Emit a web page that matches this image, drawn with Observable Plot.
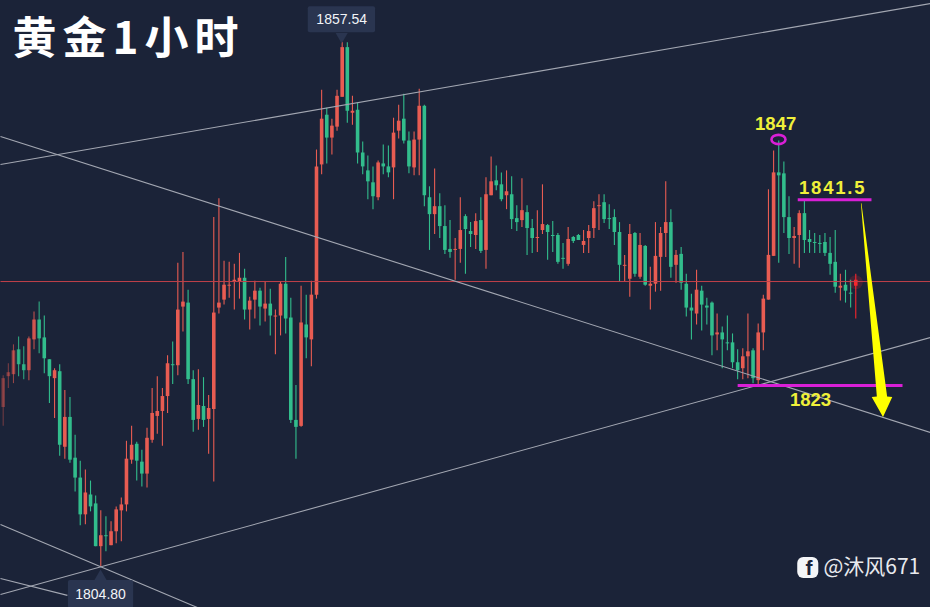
<!DOCTYPE html>
<html>
<head>
<meta charset="utf-8">
<script src="https://cdn.jsdelivr.net/npm/d3@7"></script>
<script src="https://cdn.jsdelivr.net/npm/@observablehq/plot@0.6"></script>
<style>
html,body{margin:0;padding:0;background:#1b2338;overflow:hidden}
svg{display:block}
</style>
</head>
<body>
<div id="chart"></div>
<script>
const highs = [
1824.0,1825.2,1827.1,1827.9,1826.9,1827.9,1830.4,1831.4,1830.0,1825.6,
1824.7,1825.1,1822.5,1821.8,1818.0,1815.4,1814.5,1813.4,1811.9,1810.4,
1809.8,1809.3,1810.8,1811.7,1817.4,1818.9,1817.3,1816.5,1818.7,1822.7,
1823.9,1822.7,1826.0,1827.4,1835.3,1836.4,1832.6,1824.5,1824.6,1823.8,
1822.0,1839.9,1841.8,1835.5,1835.4,1835.2,1836.3,1834.7,1831.9,1833.5,
1832.8,1833.4,1832.7,1830.6,1833.4,1835.9,1831.8,1823.0,1833.0,1832.1,
1833.5,1846.7,1852.7,1850.9,1849.8,1852.7,1857.54,1857.5,1852.1,1851.4,
1847.5,1846.1,1845.0,1845.6,1847.2,1847.1,1849.9,1851.2,1852.3,1848.5,
1848.5,1852.8,1851.2,1843.0,1844.8,1842.3,1841.1,1839.6,1837.8,1841.9,
1840.2,1839.4,1840.3,1841.9,1843.9,1846.0,1845.1,1844.4,1844.6,1844.0,
1841.1,1843.8,1841.1,1839.7,1840.6,1843.2,1839.2,1839.5,1838.3,1837.3,
1838.9,1838.0,1838.2,1838.6,1839.1,1841.5,1842.2,1842.2,1841.2,1840.7,
1839.4,1836.1,1839.2,1838.4,1838.3,1837.1,1834.9,1839.4,1838.9,1843.5,
1840.7,1836.6,1836.9,1834.2,1832.2,1834.6,1833.0,1831.8,1831.4,1830.2,
1828.9,1830.0,1828.2,1826.6,1826.7,1830.2,1826.7,1829.2,1832.1,1842.7,
1846.6,1847.6,1845.5,1842.0,1838.9,1840.6,1841.6,1838.6,1838.3,1838.1,
1838.3,1837.9,1838.6,1834.2,1834.6,1833.6,1834.2];
const bodyTops = [
1823.7,1824.3,1826.5,1826.6,1825.1,1827.7,1829.6,1829.6,1827.8,1825.6,
1824.5,1824.4,1819.8,1819.8,1815.7,1813.7,1812.2,1812.0,1811.1,1807.9,
1807.9,1808.3,1810.5,1811.0,1815.6,1817.0,1817.1,1815.3,1817.7,1820.2,
1820.4,1821.9,1825.2,1825.1,1830.6,1831.4,1831.3,1823.6,1821.0,1820.9,
1820.7,1830.3,1831.3,1833.1,1833.1,1833.6,1833.8,1833.8,1831.5,1832.5,
1832.5,1831.2,1831.2,1830.0,1833.2,1833.2,1829.8,1819.5,1829.3,1829.1,
1832.1,1845.0,1849.8,1850.2,1849.1,1852.1,1857.0,1857.0,1850.6,1850.7,
1846.4,1844.6,1843.4,1845.4,1845.3,1845.0,1848.4,1849.6,1849.8,1847.6,
1847.7,1851.1,1851.1,1841.9,1841.0,1841.0,1839.0,1836.7,1836.7,1838.6,
1840.0,1838.5,1839.5,1839.6,1842.2,1843.5,1843.6,1843.2,1842.5,1842.2,
1839.8,1840.6,1840.4,1838.8,1837.9,1839.2,1839.1,1838.1,1838.1,1835.8,
1837.7,1837.9,1838.1,1837.5,1838.5,1840.8,1841.1,1841.4,1839.8,1839.9,
1838.4,1835.1,1838.2,1838.3,1837.1,1837.0,1833.2,1836.0,1838.3,1839.4,
1839.4,1836.1,1836.2,1833.2,1830.8,1832.6,1832.5,1831.0,1831.3,1828.3,
1828.3,1827.3,1827.3,1825.3,1825.9,1826.4,1826.5,1828.3,1831.7,1836.1,
1844.4,1844.4,1844.3,1839.9,1838.0,1840.3,1840.3,1837.7,1837.4,1837.3,
1837.4,1836.3,1835.4,1833.0,1833.1,1832.3,1833.6];
const bodyBottoms = [
1820.8,1823.9,1824.1,1825.1,1824.5,1824.5,1827.6,1827.7,1825.7,1823.9,
1823.7,1817.0,1816.8,1815.5,1813.7,1810.0,1810.0,1810.8,1806.8,1806.8,
1807.8,1806.9,1808.3,1810.4,1811.0,1815.5,1815.4,1814.1,1814.1,1817.5,
1819.9,1820.4,1821.9,1825.0,1825.0,1830.9,1823.6,1819.5,1819.6,1819.5,
1819.6,1820.6,1830.8,1831.6,1833.0,1833.4,1833.4,1830.6,1830.6,1831.6,
1830.9,1830.7,1830.0,1829.9,1830.0,1829.7,1819.5,1818.8,1818.9,1827.8,
1827.6,1832.1,1845.2,1847.9,1847.9,1849.0,1852.0,1850.6,1850.4,1846.4,
1845.0,1843.5,1842.0,1841.9,1845.0,1844.4,1844.9,1848.6,1847.6,1845.0,
1844.9,1847.7,1842.1,1840.2,1840.2,1839.0,1836.6,1836.4,1836.6,1836.7,
1838.7,1838.2,1838.1,1836.5,1836.6,1842.1,1843.1,1841.7,1842.1,1839.7,
1839.4,1839.6,1838.8,1837.8,1837.8,1838.6,1838.4,1838.0,1835.4,1835.7,
1835.2,1837.5,1837.6,1837.1,1837.8,1838.8,1841.0,1839.7,1839.7,1838.4,
1835.1,1835.0,1833.7,1834.2,1833.9,1833.1,1833.0,1833.2,1835.9,1838.3,
1834.9,1835.1,1833.3,1830.8,1830.5,1830.2,1831.1,1830.8,1828.0,1828.1,
1827.6,1827.2,1825.3,1824.5,1824.7,1825.9,1823.7,1823.5,1828.3,1831.6,
1836.0,1844.1,1839.9,1837.8,1837.8,1838.1,1837.6,1837.4,1837.3,1837.2,
1836.3,1835.2,1832.9,1832.8,1832.5,1832.2,1833.0];
const lows = [
1818.9,1822.7,1823.2,1823.9,1823.6,1823.5,1826.6,1826.2,1824.2,1821.2,
1819.7,1815.9,1815.6,1815.2,1812.3,1808.9,1809.0,1810.3,1806.8,1804.8,
1806.3,1806.9,1807.1,1807.3,1810.3,1815.1,1813.4,1812.8,1812.7,1817.2,
1818.1,1816.9,1820.2,1823.1,1824.0,1828.4,1823.1,1818.3,1818.5,1818.8,
1816.1,1813.3,1830.2,1831.1,1831.8,1830.6,1831.7,1829.6,1828.6,1829.7,
1829.0,1829.4,1828.0,1826.1,1828.0,1828.2,1819.2,1815.6,1818.8,1825.7,
1824.9,1831.7,1844.2,1845.3,1846.2,1848.6,1852.0,1849.4,1849.2,1845.3,
1844.2,1841.7,1840.7,1841.6,1844.2,1843.9,1841.7,1847.8,1847.3,1844.3,
1844.1,1844.1,1841.0,1836.6,1838.2,1837.8,1836.2,1835.8,1833.6,1835.3,
1834.2,1836.9,1836.7,1836.3,1834.7,1842.1,1842.6,1841.5,1840.7,1838.7,
1838.5,1838.9,1836.1,1836.3,1836.4,1838.2,1835.6,1836.4,1835.2,1834.7,
1835.0,1837.3,1837.6,1836.3,1836.3,1837.8,1838.6,1839.3,1838.7,1837.1,
1833.4,1833.4,1831.9,1833.9,1833.7,1833.0,1830.6,1832.4,1832.5,1835.9,
1833.8,1833.3,1832.6,1829.9,1827.6,1829.1,1828.5,1829.1,1826.0,1826.5,
1824.7,1826.5,1824.7,1823.6,1823.6,1823.7,1823.2,1823.0,1826.5,1831.6,
1836.0,1835.3,1838.3,1836.2,1835.2,1834.8,1836.3,1836.3,1836.3,1836.3,
1836.0,1834.1,1832.3,1831.5,1831.3,1830.8,1829.7];
const sides = ("rrrggrrggg rgrgggrggr grrrrrggrr rrrgrrggrg rrrrrrrgrr grgrrgggrg rrrgrrrgrg " +
  "gggrggrrgg rrggrgggrr ggrgrrggrg grggrrgggg rggrrrrggg grrgrgrrrr grgggrgggr " +
  "ggggrrgrrr rgggrrgggg gggrggr").replace(/ /g, "");
const fade = [0.4, 0.45, 0.6, 0.85, 0.85, 0.75, 0.8, 0.9];
const currentPrice = 1833.47;

// candle index / price of the drawn trend lines
const trendX1 = [-0.53, -0.53, -0.53, -0.53, -0.53];
const trendY1 = [1845.24, 1848.06, 1801.98, 1809.03, 1803.6];
const trendX2 = [180.55, 180.55, 180.55, 37.8, 12.5];
const trendY2 = [1861.44, 1818.28, 1827.84, 1800.68, 1801.9];

const levelX1 = [154.7, 143.0];
const levelX2 = [169.06, 175.1];
const levelY = [1841.7, 1823.0];

const arrowY = [1841.3, 1821.85, 1821.8, 1819.8];
const arrowXa = [167.1, 170.2, 169.2, 171.4];
const arrowXb = [167.2, 172.2, 173.2, 171.4];

const noteText = ["1847", "1841.5", "1823"];
const noteX = [150.4, 161.5, 157.2];
const noteY = [1849.3, 1842.9, 1821.5];

const tipText = ["1857.54", "1804.80"];
const tipX = [65.9, 18.95];
const tipY = [1859.83, 1801.98];
const tipX1 = [59.4, 12.7];
const tipX2 = [72.5, 25.4];
const tipY1 = [1861.1, 1803.4];
const tipY2 = [1858.5, 1800.6];
const tipPointerY = [1858.12, 1803.8];

const title = "黄金1小时";
const watermark = "@沐风671";

const RED = "#e85c52", GREEN = "#32bd8c", BRIGHT = "#f8262c";
const candles = highs.map((h, i) => ({
  i, high: h, top: bodyTops[i], bottom: bodyBottoms[i], low: lows[i],
  color: i === highs.length - 1 ? BRIGHT : sides[i] === "r" ? RED : GREEN,
  opacity: i < fade.length ? fade[i] : 1
}));
const idx = a => a.map((_, i) => i);
const ellipse = {
  draw(ctx, size) {
    const rx = Math.sqrt(size / Math.PI), ry = rx * 0.66, k = 0.5523;
    ctx.moveTo(rx, 0);
    ctx.bezierCurveTo(rx, k * ry, k * rx, ry, 0, ry);
    ctx.bezierCurveTo(-k * rx, ry, -rx, k * ry, -rx, 0);
    ctx.bezierCurveTo(-rx, -k * ry, -k * rx, -ry, 0, -ry);
    ctx.bezierCurveTo(k * rx, -ry, rx, -k * ry, rx, 0);
    ctx.closePath();
  }
};
const FONT = "Liberation Sans";
const CJK = "Noto Sans CJK SC";

const plot = Plot.plot({
  width: 930, height: 607, margin: 0,
  style: {background: "#1b2338", overflow: "hidden"},
  x: {type: "linear", domain: [-0.526, 180.55], range: [0, 930], axis: null},
  y: {type: "linear", domain: [1800.68, 1861.74], range: [607, 0], axis: null},
  marks: [
    Plot.ruleX(candles, {x: "i", y1: "low", y2: "high", stroke: "color", strokeOpacity: "opacity", strokeWidth: 1.1}),
    Plot.ruleX(candles, {x: "i", y1: "bottom", y2: "top", stroke: "color", strokeOpacity: "opacity", strokeWidth: 3.6}),
    Plot.dot([candles[166]], {x: "i", y: () => 1833.4, r: 7, fill: BRIGHT, fillOpacity: 0.18}),
    Plot.link([currentPrice], {x1: () => -0.526, x2: () => 180.55, y1: d => d, y2: d => d, stroke: "#c2404a", strokeWidth: 1}),
    Plot.link(idx(trendX1), {
      x1: i => trendX1[i], y1: i => trendY1[i], x2: i => trendX2[i], y2: i => trendY2[i],
      stroke: "#a3a7b2", strokeWidth: 1.1
    }),
    Plot.link(idx(levelY), {
      x1: i => levelX1[i], x2: i => levelX2[i], y1: i => levelY[i], y2: i => levelY[i],
      stroke: "#d91fd6", strokeWidth: 3
    }),
    Plot.dot([0], {x: () => 150.95, y: () => 1847.76, r: 7, symbol: ellipse, stroke: "#d91fd6", strokeWidth: 2.6, fill: "none"}),
    Plot.areaX(idx(arrowY), {
      y: i => arrowY[i], x1: i => arrowXa[i], x2: i => arrowXb[i], fill: "#ffff00"
    }),
    Plot.text(idx(noteText), {
      x: i => noteX[i], y: i => noteY[i], text: i => noteText[i],
      fill: "#f0f03a", fontSize: 18.5, fontFamily: FONT, fontWeight: "bold"
    }),
    Plot.rect(idx(tipText), {
      x1: i => tipX1[i], x2: i => tipX2[i], y1: i => tipY1[i], y2: i => tipY2[i],
      fill: "#2a3550", rx: 2
    }),
    Plot.dot([0], {x: () => tipX[0], y: () => tipPointerY[0], r: 4.5, symbol: "triangle", rotate: 180, fill: "#2a3550"}),
    Plot.dot([1], {x: () => tipX[1], y: () => tipPointerY[1], r: 4.5, symbol: "triangle", fill: "#2a3550"}),
    Plot.text(idx(tipText), {
      x: i => tipX[i], y: i => tipY[i], text: i => tipText[i],
      fill: "#f2f4f8", fontSize: 14, fontFamily: FONT
    }),
    Plot.text([title], {
      x: () => 1.8, y: () => 1857.8, text: d => d, textAnchor: "start",
      fill: "#ffffff", fontSize: 44, fontFamily: CJK, fontWeight: "bold"
    }),
    Plot.rect([0], {x1: () => 154.7, x2: () => 158.8, y1: () => 1803.6, y2: () => 1805.7, fill: "#f4f5f7", rx: 6}),
    Plot.text(["f"], {
      x: () => 156.9, y: () => 1804.6, text: d => d,
      fill: "#1b2338", fontSize: 21, fontFamily: FONT, fontWeight: "bold"
    }),
    Plot.text([watermark], {
      x: () => 159.7, y: () => 1804.75, text: d => d, textAnchor: "start",
      fill: "#e8eaee", fontSize: 21, fontFamily: CJK
    })
  ]
});
document.getElementById("chart").appendChild(plot);
const sel = d3.select(plot).selectAll("text");
sel.filter(function () { return this.textContent === "1841.5"; }).style("letter-spacing", "1.8px");
sel.filter(function () { return this.textContent === title; }).style("letter-spacing", "6px");
</script>
</body>
</html>
